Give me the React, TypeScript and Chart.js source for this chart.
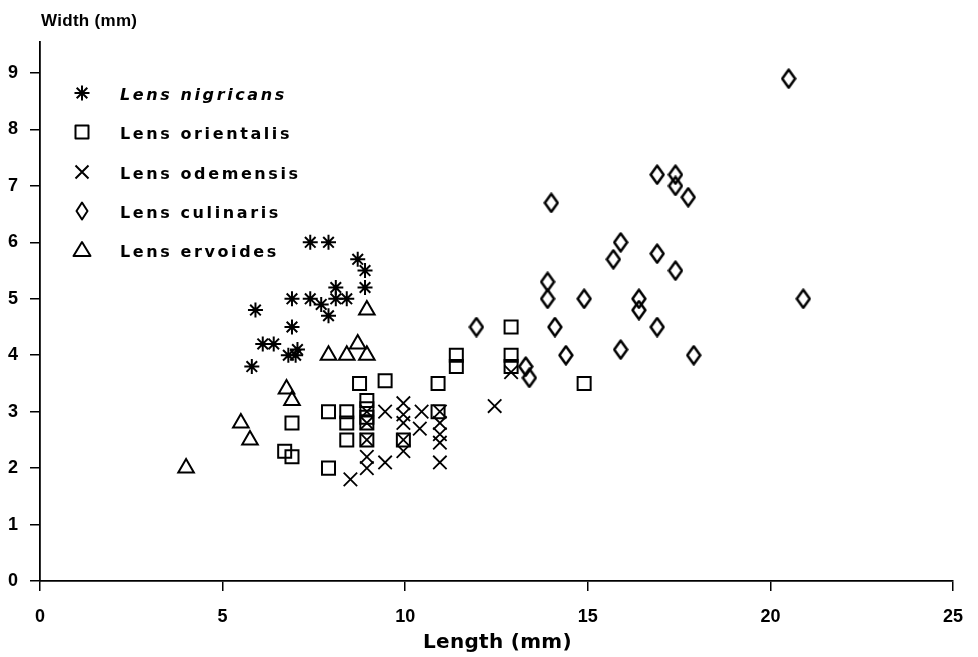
import { useEffect, useRef } from 'react';
import { Chart, registerables } from 'chart.js';

Chart.register(...registerables);

// Axis ticks
const xTickValues = [0, 5, 10, 15, 20, 25];
const yTickValues = [0, 1, 2, 3, 4, 5, 6, 7, 8, 9];

// Legend labels
const speciesNames = ['Lens nigricans', 'Lens orientalis', 'Lens odemensis', 'Lens culinaris', 'Lens ervoides'];

// Lens nigricans (asterisks)
const nigricansLength = [5.8, 5.9, 6.1, 6.4, 6.8, 7.0, 7.05, 6.9, 6.9, 7.4, 7.7, 7.9, 8.1, 8.1, 8.4, 8.9, 8.9, 8.7, 7.4, 7.9];
const nigricansWidth = [3.8, 4.8, 4.2, 4.2, 4.0, 4.0, 4.1, 4.5, 5.0, 5.0, 4.9, 4.7, 5.2, 5.0, 5.0, 5.2, 5.5, 5.7, 6.0, 6.0];

// Lens orientalis (squares)
const orientalisLength = [6.7, 6.9, 6.9, 7.9, 7.9, 8.4, 8.4, 8.4, 8.75, 8.95, 8.95, 8.95, 8.95, 8.95, 9.45, 9.95, 10.9, 10.9, 11.4, 11.4, 12.9, 12.9, 12.9, 14.9];
const orientalisWidth = [2.3, 2.2, 2.8, 3.0, 2.0, 3.0, 2.8, 2.5, 3.5, 3.2, 3.05, 2.9, 2.8, 2.5, 3.55, 2.5, 3.0, 3.5, 4.0, 3.8, 4.5, 4.0, 3.8, 3.5];

// Lens odemensis (crosses)
const odemensisLength = [8.5, 8.95, 8.95, 8.95, 8.95, 8.95, 9.45, 9.45, 9.95, 9.95, 9.95, 9.95, 9.95, 10.45, 10.4, 10.95, 10.95, 10.95, 10.95, 10.95, 12.45, 12.9];
const odemensisWidth = [1.8, 2.0, 2.2, 2.5, 2.8, 3.0, 3.0, 2.1, 3.15, 2.95, 2.8, 2.5, 2.3, 3.0, 2.7, 3.0, 2.8, 2.6, 2.45, 2.1, 3.1, 3.7];

// Lens culinaris (diamonds)
const culinarisLength = [11.95, 13.3, 13.4, 13.9, 13.9, 14.0, 14.1, 14.4, 14.9, 15.7, 15.9, 15.9, 16.4, 16.4, 16.9, 16.9, 16.9, 17.4, 17.4, 17.4, 17.75, 17.9, 20.5, 20.9];
const culinarisWidth = [4.5, 3.8, 3.6, 5.3, 5.0, 6.7, 4.5, 4.0, 5.0, 5.7, 6.0, 4.1, 5.0, 4.8, 7.2, 5.8, 4.5, 7.2, 7.0, 5.5, 6.8, 4.0, 8.9, 5.0];

// Lens ervoides (triangles)
const ervoidesLength = [4.0, 5.5, 5.75, 6.75, 6.9, 7.9, 8.4, 8.7, 8.95, 8.95];
const ervoidesWidth = [2.0, 2.8, 2.5, 3.4, 3.2, 4.0, 4.0, 4.2, 4.0, 4.8];

const pts = (xs: number[], ys: number[]) => xs.map((x, i) => ({ x, y: ys[i] }));

function makeDiamond(w: number, h: number, lw: number): HTMLCanvasElement {
  const c = document.createElement('canvas');
  c.width = w;
  c.height = h;
  const ctx = c.getContext('2d')!;
  ctx.strokeStyle = '#000';
  ctx.lineWidth = lw;
  ctx.lineJoin = 'round';
  const m = lw / 2 + 0.3;
  ctx.beginPath();
  ctx.moveTo(w / 2, m);
  ctx.lineTo(w - m, h / 2);
  ctx.lineTo(w / 2, h - m);
  ctx.lineTo(m, h / 2);
  ctx.closePath();
  ctx.stroke();
  return c;
}

export default function App() {
  const ref = useRef<HTMLCanvasElement>(null);

  useEffect(() => {
    document.body.style.margin = '0';
    const diamond = makeDiamond(16, 21, 2.5);
    const FONT = '"DejaVu Sans", "Liberation Sans", sans-serif';
    const FONT2 = '"Liberation Sans", Arial, sans-serif';

    const decor = {
      id: 'decor',
      afterDraw(chart: any) {
        const ctx = chart.ctx as CanvasRenderingContext2D;
        const area = chart.chartArea;
        ctx.save();
        ctx.fillStyle = '#000';
        ctx.strokeStyle = '#000';
        // Titles
        (ctx as any).letterSpacing = '0.3px';
        ctx.font = `bold 17px ${FONT2}`;
        ctx.textAlign = 'left';
        ctx.textBaseline = 'middle';
        ctx.fillText('Width (mm)', area.left + 1, 21);
        (ctx as any).letterSpacing = '0.3px';
        ctx.font = `bold 20px ${FONT}`;
        ctx.textAlign = 'center';
        ctx.fillText('Length (mm)', (area.left + area.right) / 2 + 1, 643);

        // Legend
        const sx = 82;
        const tx = 120;
        const rows = [93, 132, 172, 211, 250];
        ctx.lineWidth = 2;
        ctx.lineCap = 'butt';
        ctx.lineJoin = 'round';
        // asterisk
        let y = rows[0];
        ctx.beginPath();
        for (let k = 0; k < 4; k++) {
          const a = (k * Math.PI) / 4;
          ctx.moveTo(sx - 7.5 * Math.cos(a), y - 7.5 * Math.sin(a));
          ctx.lineTo(sx + 7.5 * Math.cos(a), y + 7.5 * Math.sin(a));
        }
        ctx.stroke();
        // square
        y = rows[1];
        ctx.strokeRect(sx - 6.5, y - 6.5, 13, 13);
        // cross
        y = rows[2];
        ctx.beginPath();
        ctx.moveTo(sx - 6.5, y - 6.5);
        ctx.lineTo(sx + 6.5, y + 6.5);
        ctx.moveTo(sx + 6.5, y - 6.5);
        ctx.lineTo(sx - 6.5, y + 6.5);
        ctx.stroke();
        // diamond
        y = rows[3];
        ctx.beginPath();
        ctx.moveTo(sx, y - 8.5);
        ctx.lineTo(sx + 5.5, y);
        ctx.lineTo(sx, y + 8.5);
        ctx.lineTo(sx - 5.5, y);
        ctx.closePath();
        ctx.stroke();
        // triangle
        y = rows[4];
        ctx.beginPath();
        ctx.moveTo(sx, y - 8);
        ctx.lineTo(sx + 8.5, y + 6);
        ctx.lineTo(sx - 8.5, y + 6);
        ctx.closePath();
        ctx.stroke();

        ctx.textAlign = 'left';
        (ctx as any).letterSpacing = '2.6px';
        speciesNames.forEach((name, i) => {
          ctx.font = i === 0 ? `italic bold 16px ${FONT}` : `bold 16px ${FONT}`;
          ctx.fillText(name, tx, rows[i] + 3);
        });
        ctx.restore();
      },
    };

    const chart = new Chart(ref.current!, {
      type: 'scatter',
      data: {
        datasets: [
          {
            label: speciesNames[0],
            data: pts(nigricansLength, nigricansWidth),
            pointStyle: 'star',
            pointRadius: 7.5,
            borderColor: '#000',
            backgroundColor: 'rgba(0,0,0,0)',
            borderWidth: 2,
          },
          {
            label: speciesNames[1],
            data: pts(orientalisLength, orientalisWidth),
            pointStyle: 'rect',
            pointRadius: 9.2,
            borderColor: '#000',
            backgroundColor: 'rgba(0,0,0,0)',
            borderWidth: 2,
          },
          {
            label: speciesNames[2],
            data: pts(odemensisLength, odemensisWidth),
            pointStyle: 'crossRot',
            pointRadius: 9.5,
            borderColor: '#000',
            backgroundColor: 'rgba(0,0,0,0)',
            borderWidth: 1.8,
          },
          {
            label: speciesNames[3],
            data: pts(culinarisLength, culinarisWidth),
            pointStyle: diamond,
            pointRadius: 9,
            borderColor: '#000',
            backgroundColor: 'rgba(0,0,0,0)',
            borderWidth: 2,
          },
          {
            label: speciesNames[4],
            data: pts(ervoidesLength, ervoidesWidth),
            pointStyle: 'triangle',
            pointRadius: 9,
            borderColor: '#000',
            backgroundColor: 'rgba(0,0,0,0)',
            borderWidth: 2,
          },
        ],
      },
      options: {
        responsive: false,
        animation: false,
        events: [],
        layout: { padding: { top: 42, right: 24, left: 0, bottom: 0 } },
        plugins: {
          legend: { display: false },
          tooltip: { enabled: false },
          title: { display: false },
        },
        scales: {
          x: {
            type: 'linear',
            min: 0,
            max: 25,
            afterFit: (s: any) => {
              s.height = 76;
            },
            afterBuildTicks: (s: any) => {
              s.ticks = xTickValues.map((v) => ({ value: v }));
            },
            border: { display: true, color: '#000', width: 1.8 },
            grid: { drawOnChartArea: false, drawTicks: true, tickLength: 10, color: '#000', lineWidth: 1.5 },
            ticks: { color: '#000', padding: 15, font: { family: FONT2, size: 18, weight: 'bold' }, maxRotation: 0 },
          },
          y: {
            type: 'linear',
            min: 0,
            max: 9.55,
            afterFit: (s: any) => {
              s.width = 40;
            },
            afterBuildTicks: (s: any) => {
              s.ticks = yTickValues.map((v) => ({ value: v }));
            },
            border: { display: true, color: '#000', width: 1.8 },
            grid: { drawOnChartArea: false, drawTicks: true, tickLength: 10, color: '#000', lineWidth: 1.5 },
            ticks: { color: '#000', padding: 12, font: { family: FONT2, size: 18, weight: 'bold' } },
          },
        },
      },
      plugins: [decor],
    });
    return () => chart.destroy();
  }, []);

  return (
    <div style={{ width: 978, height: 657, background: '#fff' }}>
      <canvas ref={ref} width={978} height={657} style={{ display: 'block' }} />
    </div>
  );
}
